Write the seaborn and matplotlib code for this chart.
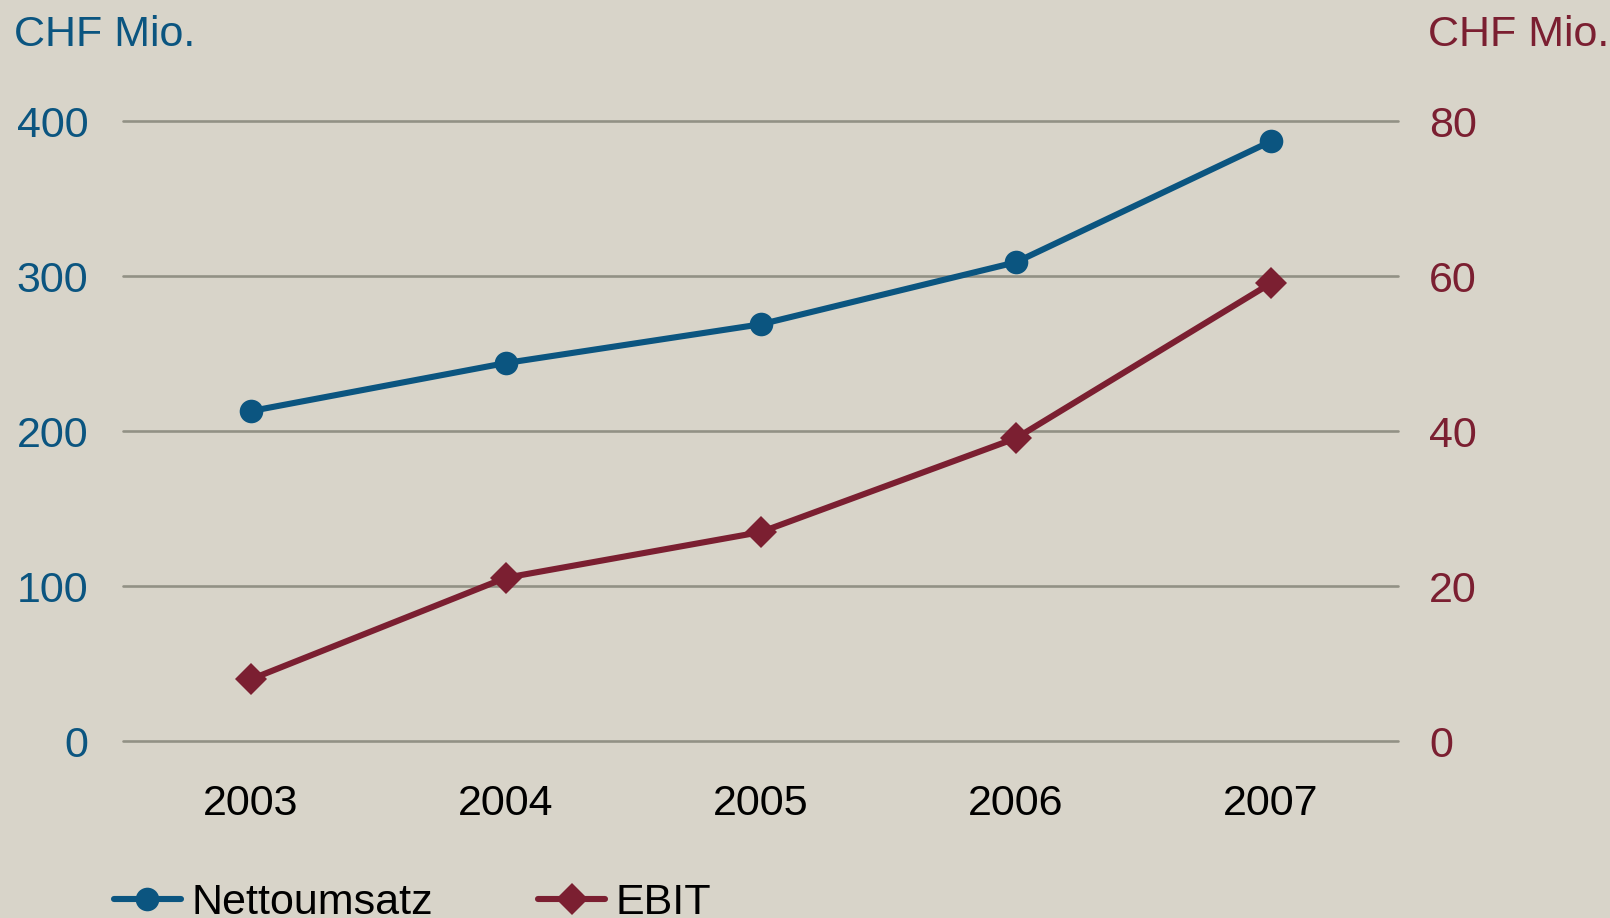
import matplotlib
matplotlib.use('Agg')
import matplotlib.pyplot as plt
import seaborn as sns
import pandas as pd

years = [2003, 2004, 2005, 2006, 2007]
nettoumsatz = [213, 244, 269, 309, 387]
ebit = [8.0, 21.1, 27.0, 39.1, 59.1]

left_ticks = [0, 100, 200, 300, 400]
right_ticks = [0, 20, 40, 60, 80]

blue = '#0b5580'
red = '#7b1f31'
bg = '#d8d4c9'
grid_col = '#929185'

df = pd.DataFrame({'Jahr': years, 'Nettoumsatz': nettoumsatz, 'EBIT': ebit})

sns.set_theme(style='white')
plt.rcParams['font.family'] = ['Liberation Sans', 'DejaVu Sans']

fig = plt.figure(figsize=(16.1, 9.18), dpi=100, facecolor=bg)
ax = fig.add_axes([0.0765, 0.1924, 0.7921, 0.6756])
ax.set_facecolor(bg)
ax2 = ax.twinx()

sns.lineplot(data=df, x='Jahr', y='Nettoumsatz', ax=ax, color=blue, linewidth=4.4,
             marker='o', markersize=17, markeredgewidth=0, label='Nettoumsatz', legend=False)
sns.lineplot(data=df, x='Jahr', y='EBIT', ax=ax2, color=red, linewidth=4.4,
             marker='D', markersize=16, markeredgewidth=0, label='EBIT', legend=False)

ax.set_xlim(2002.5, 2007.5)
ax.set_ylim(0, 400)
ax2.set_ylim(0, 80)
ax.set_yticks(left_ticks)
ax2.set_yticks(right_ticks)
ax.set_xticks(years)
ax.set_xticklabels([str(y) for y in years])

for a in (ax, ax2):
    for s in a.spines.values():
        s.set_visible(False)
    a.set_xlabel('')
    a.set_ylabel('')

ax.grid(axis='y', color=grid_col, linewidth=1.9)
ax.grid(axis='x', visible=False)
ax2.grid(False)
ax.set_axisbelow(True)
for gl in ax.get_ygridlines():
    gl.set_clip_on(False)

ax.tick_params(axis='y', colors=blue, labelsize=31, length=0, pad=25)
ax.tick_params(axis='x', colors='black', labelsize=31, length=0, pad=31)
ax2.tick_params(axis='y', colors=red, labelsize=31, length=0, pad=22)

fig.text(0.009, 0.962, 'CHF Mio.', color=blue, fontsize=31, ha='left', va='center')
fig.text(0.887, 0.962, 'CHF Mio.', color=red, fontsize=31, ha='left', va='center')

handles = ax.get_lines()[:1] + ax2.get_lines()[:1]
leg = fig.legend(handles, ['Nettoumsatz', 'EBIT'], loc='upper left', bbox_to_anchor=(0.060, 0.057),
                 ncol=2, frameon=False, fontsize=31, handlelength=1.55, handletextpad=0.25,
                 columnspacing=2.45, borderaxespad=0, labelcolor='black')

fig.savefig('out.png', dpi=100, facecolor=bg)
